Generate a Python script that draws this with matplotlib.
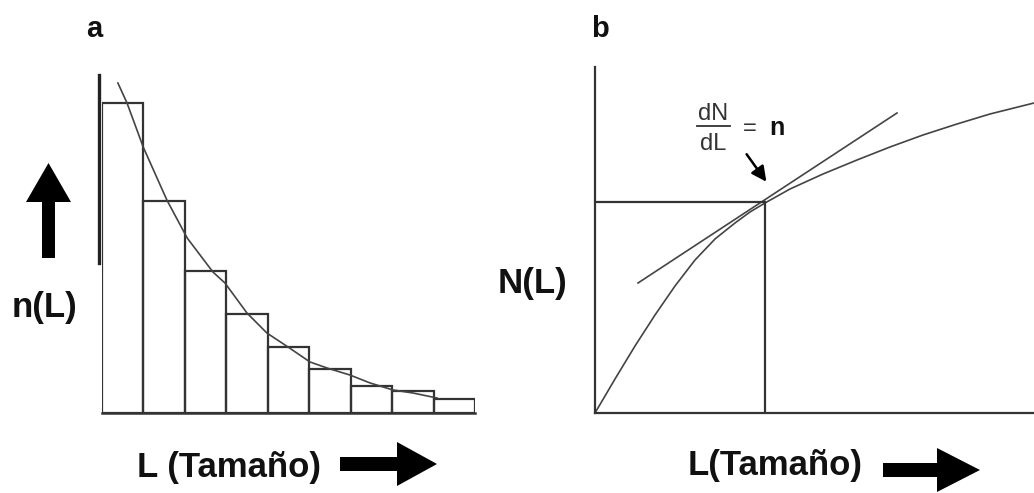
import matplotlib
matplotlib.use("Agg")
import matplotlib.pyplot as plt
from matplotlib.patches import FancyArrow
import numpy as np

plt.rcParams['font.family'] = ['Liberation Sans', 'DejaVu Sans']

# panel a: histogram n(L) and the fitted decay curve
bar_heights = [310, 211.5, 141.5, 98.5, 65.5, 43.5, 26.5, 21.5, 13.5]
curve_a_x = [0.39, 0.61, 1.0, 1.57, 2.06, 2.68, 2.97, 3.50, 3.98, 4.49,
             5.02, 5.43, 5.98, 6.47, 7.02, 7.50, 8.08]
curve_a_y = [329.5, 309.5, 265.5, 212.5, 174.5, 140.5, 129.5, 99.5, 79.5,
             65.5, 50.5, 44.5, 37.5, 29.5, 22.5, 19.5, 14.5]

# panel b: cumulative N(L) with tangent at one point
curve_b_x = [0, 20, 40, 60, 80, 100, 120, 140, 155, 170, 195, 228, 262,
             295, 328, 362, 395, 439]
curve_b_y = [0, 34, 67, 98, 127, 153, 174, 190, 201, 210, 224, 239, 253,
             266, 278, 289, 299, 310]
tangent_x = [43, 302]
tangent_y = [130, 300]
point_x, point_y = 170, 211

LINE = '#333333'
W, H = 1034, 493

fig = plt.figure(figsize=(W / 100, H / 100), dpi=100)

# ---- panel a
ax_a = fig.add_axes([101.7 / W, 80.5 / H, 373.5 / W, 337.5 / H])
ax_a.bar(np.arange(len(bar_heights)), bar_heights, width=1, align='edge',
         fill=False, edgecolor=LINE, linewidth=1.6)
ax_a.plot(curve_a_x, curve_a_y, color='#444444', lw=1.2)
ax_a.plot([-0.06, -0.06], [150, 337.5], color='#222222', lw=2.4,
          clip_on=False)
ax_a.set_xlim(0, 9)
ax_a.set_ylim(0, 337.5)
for s in ['top', 'right', 'left']:
    ax_a.spines[s].set_visible(False)
ax_a.spines['bottom'].set_color(LINE)
ax_a.spines['bottom'].set_linewidth(1.8)
ax_a.set_xticks([])
ax_a.set_yticks([])
ax_a.patch.set_alpha(0)

# ---- panel b
ax_b = fig.add_axes([595 / W, 80 / H, 439 / W, 346 / H])
ax_b.plot(curve_b_x, curve_b_y, color='#444444', lw=1.2, clip_on=False)
ax_b.plot(tangent_x, tangent_y, color='#444444', lw=1.2)
ax_b.plot([0, point_x], [point_y, point_y], color=LINE, lw=1.6)
ax_b.plot([point_x, point_x], [0, point_y], color=LINE, lw=1.6)
ax_b.set_xlim(0, 439)
ax_b.set_ylim(0, 346)
for s in ['top', 'right']:
    ax_b.spines[s].set_visible(False)
for s in ['left', 'bottom']:
    ax_b.spines[s].set_color(LINE)
    ax_b.spines[s].set_linewidth(1.6)
ax_b.set_xticks([])
ax_b.set_yticks([])
ax_b.patch.set_alpha(0)

# ---- labels and arrows in pixel space
ov = fig.add_axes([0, 0, 1, 1], zorder=-1)
ov.set_xlim(0, W)
ov.set_ylim(H, 0)
ov.axis('off')

big = dict(fontsize=25, fontweight='bold', color='#111111')
ov.text(94, 37, 'a', fontsize=21, fontweight='bold', ha='center',
        va='baseline', color='#111111')
ov.text(600, 37, 'b', fontsize=21, fontweight='bold', ha='center',
        va='baseline', color='#111111')
ov.text(45, 317, 'n(L)', ha='center', va='baseline', **big)
ov.text(532, 293, 'N(L)', ha='center', va='baseline', **big)
ov.text(229, 477, 'L (Tamaño)', ha='center', va='baseline', **big)
ov.text(775, 475, 'L(Tamaño)', ha='center', va='baseline', **big)

ov.add_patch(FancyArrow(48.5, 258, 0, -95, width=13, head_width=45,
                        head_length=39, length_includes_head=True,
                        color='black', lw=0))
ov.add_patch(FancyArrow(340, 464, 97, 0, width=14, head_width=44,
                        head_length=40, length_includes_head=True,
                        color='black', lw=0))
ov.add_patch(FancyArrow(883, 470, 97, 0, width=14, head_width=44,
                        head_length=43, length_includes_head=True,
                        color='black', lw=0))

# dN/dL = n
ov.text(713, 120, 'dN', fontsize=17, ha='center', va='baseline',
        color='#333333')
ov.plot([697, 730], [126, 126], color='#333333', lw=1.3)
ov.text(713, 150, 'dL', fontsize=17, ha='center', va='baseline',
        color='#333333')
ov.text(750, 135, '=', fontsize=17, ha='center', va='baseline',
        color='#333333')
ov.text(777, 135, 'n', fontsize=18, fontweight='bold', ha='center',
        va='baseline', color='#111111')
ov.annotate('', xy=(768, 184), xytext=(745, 152),
            arrowprops=dict(arrowstyle='-|>,head_length=0.9,head_width=0.45',
                            color='black', lw=1.8))

fig.savefig('out.png', dpi=100)
